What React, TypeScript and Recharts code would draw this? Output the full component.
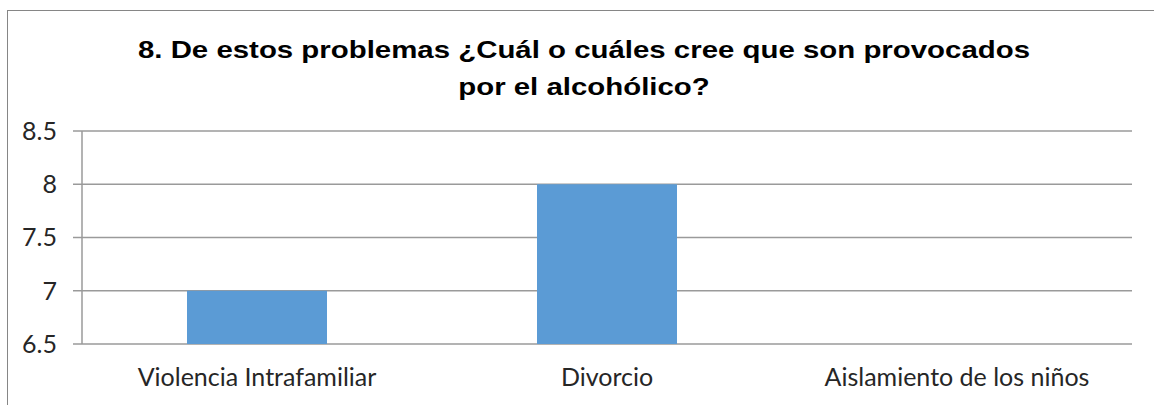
import React from 'react';
import { BarChart, Bar, XAxis, YAxis, CartesianGrid } from 'recharts';

const categories = ['Violencia Intrafamiliar', 'Divorcio', 'Aislamiento de los niños'];
const values = [7, 8, 6];
const yTicks = [6.5, 7, 7.5, 8, 8.5];
const boundaryTicks = [0, 1, 2, 3];
const titleLines = [
  '8. De estos problemas ¿Cuál o cuáles cree que son provocados',
  'por el alcohólico?',
];

const data = categories.map((name, i) => ({ name, value: values[i] }));

const labelFont = 'Lato, "Open Sans", sans-serif';
const gridColor = '#9a9a9a';

export default function App() {
  return (
    <div style={{ position: 'absolute', left: 0, top: 0, width: 1154, height: 405, background: '#fff', overflow: 'hidden' }}>
      <div style={{ position: 'absolute', left: 7, top: 10, width: 1170, height: 420, border: '1px solid #868686' }} />
      <div
        style={{
          position: 'absolute', left: 0, top: 31, width: 1168, textAlign: 'center',
          fontFamily: '"Liberation Sans", Arial, sans-serif', fontWeight: 'bold', fontSize: 24,
          lineHeight: '37px', color: '#000', transform: 'scaleX(1.225)', transformOrigin: '584px 0',
        }}
      >
        {titleLines.map((t, i) => <div key={i}>{t}</div>)}
      </div>
      <BarChart
        width={1154}
        height={405}
        data={data}
        barCategoryGap="30%"
        margin={{ top: 131, right: 22, left: 0, bottom: 21 }}
        style={{ position: 'absolute', left: 0, top: 0 }}
      >
        <CartesianGrid vertical={false} stroke={gridColor} strokeWidth={1.5} />
        <XAxis
          xAxisId="edge"
          type="number"
          domain={[0, 3]}
          ticks={boundaryTicks}
          height={0}
          stroke={gridColor}
          strokeWidth={1.5}
          tickSize={6}
          tick={() => <g />}
        />
        <XAxis
          dataKey="name"
          height={40}
          axisLine={false}
          tickLine={false}
          tickSize={0}
          tickMargin={24}
          interval={0}
          tick={{ fill: '#262626', fontSize: 25, fontFamily: labelFont }}
        />
        <YAxis
          domain={[6.5, 8.5]}
          ticks={yTicks}
          allowDataOverflow
          width={82}
          stroke={gridColor}
          strokeWidth={1.5}
          tickSize={9}
          tickMargin={16}
          tick={{ fill: '#262626', fontSize: 25, fontFamily: labelFont }}
        />
        <Bar dataKey="value" fill="#5b9bd5" isAnimationActive={false} />
      </BarChart>
    </div>
  );
}
